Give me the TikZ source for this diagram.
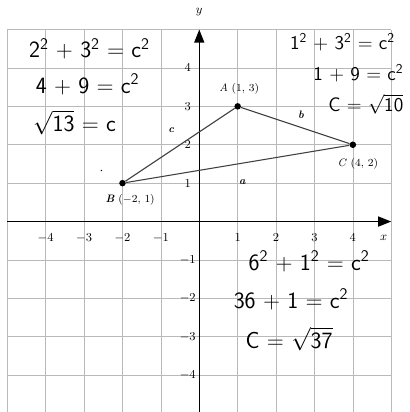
\documentclass[tikz,border=0pt]{standalone}
\usetikzlibrary{arrows.meta}
\begin{document}
\begin{tikzpicture}[>={Triangle[length=3.4mm,width=2.6mm]},x=1cm,y=1cm,font=\small]
    \useasboundingbox (-5.19,-4.96) rectangle (5.48,5.77);
    \tikzset{
        pt/.style={circle,fill=black,inner sep=0pt,minimum size=1.7mm},
        side/.style={font=\footnotesize\bfseries\itshape},
        hand/.style={font=\sffamily\LARGE,inner sep=0pt,text depth=0pt},
        handr/.style={font=\sffamily\Large,inner sep=0pt,text depth=0pt,anchor=east}
    }
    % grid and axes
    \draw[gray!55,thin] (-5,-5) grid (5,5);
    \draw[->,line width=1pt] (-5,0) -- (5,0);
    \draw[->,line width=1pt] (0,-5) -- (0,5);
    \node (xlab) at (4.8,-0.42) {$x$};
    \node (ylab) at (0,5.45) {$y$};
    \foreach \i in {-4,-3,-2,-1,1,2,3,4}{
        \node (xt\i) at (\i,-0.42) {$\i$};
        \node (yt\i) at (-0.3,\i) {$\i$};
    }
    % triangle
    \node[pt] (A) at (1,3) {};
    \node[pt] (B) at (-2,1) {};
    \node[pt] (C) at (4,2) {};
    \draw[black!75,thick] (B) -- (A) -- (C) -- (B);
    \node[font=\footnotesize] (Alab) at (1.04,3.47) {\textit{A} (1, 3)};
    \node[font=\footnotesize] (Blab) at (-1.8,0.56) {\textbf{\textit{B}} ($-$2, 1)};
    \node[font=\footnotesize] (Clab) at (4.13,1.51) {\textit{C} (4, 2)};
    \node[side] (clab) at (-0.73,2.38) {c};
    \node[side] (blab) at (2.65,2.77) {b};
    \node[side] (alab) at (1.12,1.02) {a};
    \fill (-2.55,1.33) circle (0.6pt);
    % handwritten working
    \node[hand] (l1) at (-2.86,4.52) {2\textsuperscript{2} + 3\textsuperscript{2} = c\textsuperscript{2}};
    \node[hand] (l2) at (-2.91,3.6) {4 + 9 = c\textsuperscript{2}};
    \node[hand] (l3) at (-3.25,2.62) {$\sqrt{\mbox{13}}$ = c};
    \node[handr] (r1) at (5.1,4.7) {1\textsuperscript{2} + 3\textsuperscript{2} = c\textsuperscript{2}};
    \node[handr] (r2) at (5.32,3.88) {1 + 9 = c\textsuperscript{2}};
    \node[handr] (r3) at (5.32,3.1) {C = $\sqrt{\mbox{10}}$};
    \node[hand] (d1) at (2.86,-1.02) {6\textsuperscript{2} + 1\textsuperscript{2} = c\textsuperscript{2}};
    \node[hand] (d2) at (2.39,-2.0) {36 + 1 = c\textsuperscript{2}};
    \node[hand] (d3) at (2.34,-3.02) {C = $\sqrt{\mbox{37}}$};
\end{tikzpicture}
\end{document}
